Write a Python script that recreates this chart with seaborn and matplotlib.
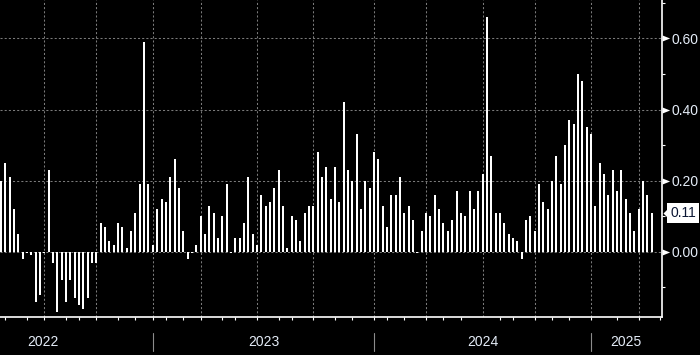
import numpy as np
import pandas as pd
import matplotlib
matplotlib.use("Agg")
import matplotlib.pyplot as plt
from matplotlib.path import Path
from matplotlib import transforms
import seaborn as sns

# weekly values (Apr 2022 -> Apr 2025)
values = [
    0.20, 0.25, 0.21, 0.12, 0.05, -0.02, -0.003, -0.01, -0.14, -0.12,
    -0.003, 0.23, -0.03, -0.17, -0.08, -0.14, -0.08, -0.13, -0.15, -0.16,
    -0.13, -0.03, -0.03, 0.08, 0.07, 0.03, 0.02, 0.08, 0.07, 0.01,
    0.06, 0.11, 0.19, 0.59, 0.19, 0.02, 0.12, 0.15, 0.14, 0.21,
    0.26, 0.18, 0.06, -0.02, -0.003, 0.02, 0.10, 0.05, 0.13, 0.11,
    0.04, 0.10, 0.19, -0.003, 0.04, 0.04, 0.08, 0.21, 0.05, 0.02,
    0.16, 0.13, 0.14, 0.18, 0.23, 0.13, 0.01, 0.10, 0.09, 0.03,
    0.11, 0.13, 0.13, 0.28, 0.21, 0.24, 0.15, 0.24, 0.14, 0.42,
    0.23, 0.20, 0.33, 0.12, 0.20, 0.18, 0.28, 0.26, 0.13, 0.07,
    0.16, 0.16, 0.21, 0.11, 0.13, 0.09, -0.003, 0.06, 0.11, 0.10,
    0.16, 0.12, 0.08, 0.06, 0.09, 0.17, 0.11, 0.10, 0.17, 0.12,
    0.17, 0.22, 0.66, 0.27, 0.11, 0.11, 0.08, 0.05, 0.04, 0.03,
    -0.02, 0.09, 0.10, 0.06, 0.19, 0.14, 0.12, 0.20, 0.27, 0.19,
    0.30, 0.37, 0.36, 0.50, 0.48, 0.35, 0.33, 0.13, 0.25, 0.22,
    0.16, 0.23, 0.17, 0.23, 0.15, 0.11, 0.06, 0.12, 0.20, 0.16, 0.11,
]

# bar index where each month / quarter / year starts
month_ticks = [1, 6, 10, 15, 18, 22, 27, 31, 35, 38, 42, 46, 51, 54, 59, 64, 67,
               72, 77, 81, 86, 89, 93, 98, 102, 106, 111, 115, 118, 123, 127,
               131, 136, 142, 147, 152]
quarter_lines = [10, 22, 35, 46, 59, 72, 86, 98, 111, 123, 136, 147]
year_starts = [35, 86, 136]
year_labels = ["2022", "2023", "2024", "2025"]
year_label_pos = [9.7, 60.5, 111, 144]
y_major = [0.0, 0.2, 0.4, 0.6]
y_minor = [-0.1, 0.1, 0.3, 0.5, 0.7]

df = pd.DataFrame({"week": np.arange(len(values)), "value": values})

sns.set_style("dark")
plt.rcParams["font.family"] = ["Liberation Sans Narrow", "Liberation Sans", "DejaVu Sans"]

txt_col = "#e4ecf7"
grid_col = "#7a7a7a"
dash = (0, (2, 2))

fig = plt.figure(figsize=(7, 3.55), dpi=100, facecolor="black")
ax = fig.add_axes([0, 0.108, 0.9453, 0.892])
ax.set_facecolor("black")

sns.barplot(data=df, x="week", y="value", color="white", width=0.46,
            saturation=1, errorbar=None, linewidth=0, ax=ax)
for bar in ax.patches:
    bar.set_antialiased(False)

ax.set_xlim(-0.23, 152.3)
ax.set_ylim(-0.182, 0.708)
ax.set_xlabel("")
ax.set_ylabel("")
ax.set_axisbelow(True)

for s in ["left", "top"]:
    ax.spines[s].set_visible(False)
for s in ["right", "bottom"]:
    ax.spines[s].set_visible(True)
    ax.spines[s].set_color("white")
    ax.spines[s].set_linewidth(1.2)

# grid
ax.grid(False)
ax.yaxis.grid(True, which="major", color=grid_col, linestyle=dash, linewidth=0.75)
for q in quarter_lines:
    ax.axvline(q, color=grid_col, linestyle=dash, linewidth=0.75, zorder=0.5)

# x axis: month ticks + year labels + year separators
ax.set_xticks(month_ticks, minor=True)
ax.set_xticks(year_label_pos, labels=year_labels)
ax.tick_params(axis="x", which="minor", direction="out", length=2.5, width=0.8,
               color="white", bottom=True)
ax.tick_params(axis="x", which="major", length=0, pad=13, labelsize=10,
               labelcolor=txt_col, bottom=True)
for ys in year_starts:
    ax.axvline(ys, ymin=-0.108, ymax=-0.052, color="#8c8c8c", linewidth=0.8,
               clip_on=False)

# y axis on the right
ax.yaxis.tick_right()
ax.set_yticks(y_major)
ax.set_yticks(y_minor, minor=True)
ax.yaxis.set_major_formatter("{x:.2f}")
ax.tick_params(axis="y", which="minor", direction="out", length=2.2, width=0.8,
               color="white", right=True, left=False)
ax.tick_params(axis="y", which="major", length=0, pad=7, labelsize=10,
               labelcolor=txt_col, right=True, left=False)

tri = Path([(0, -0.4), (1, 0), (0, 0.4), (0, -0.4)],
           [Path.MOVETO, Path.LINETO, Path.LINETO, Path.CLOSEPOLY])
for t in ax.yaxis.get_major_ticks():
    t.tick2line.set_marker(tri)
    t.tick2line.set_markersize(11)
    t.tick2line.set_markerfacecolor("white")
    t.tick2line.set_markeredgecolor("white")
    t.tick2line.set_markeredgewidth(0)

# last value tag
last = values[-1]
ytrans = ax.get_yaxis_transform()
ax.annotate(f"{last:.2f}", xy=(1, last), xycoords=ytrans,
            xytext=(6.2, 0), textcoords="offset points", ha="left", va="center",
            fontsize=10, color="#0b1633",
            bbox=dict(boxstyle="square,pad=0.22", fc="white", ec="none"))
arrow = Path([(0, 0), (1, -1), (1, 1), (0, 0)],
             [Path.MOVETO, Path.LINETO, Path.LINETO, Path.CLOSEPOLY])
ax.plot([1], [last], marker=arrow, markersize=9, color="white", markeredgewidth=0,
        transform=transforms.offset_copy(ytrans, fig, x=1, y=0, units="dots"),
        clip_on=False)

fig.savefig("out.png", dpi=100, facecolor="black")
